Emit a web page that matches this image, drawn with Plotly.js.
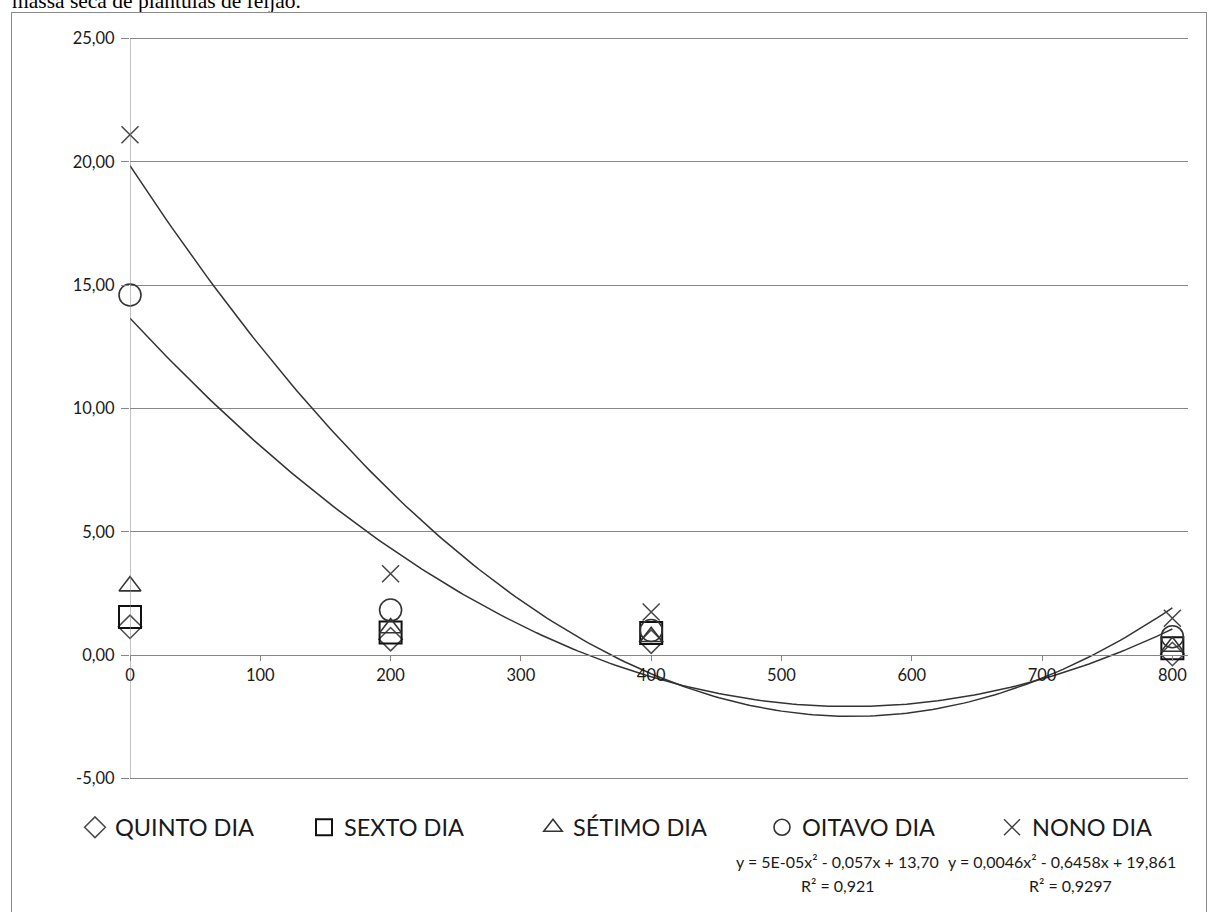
<!DOCTYPE html>
<html>
<head>
<meta charset="utf-8">
<script src="https://cdn.plot.ly/plotly-3.0.1.min.js"></script>
<style>
  html, body { margin: 0; padding: 0; background: #fff; }
  body { width: 1214px; height: 912px; position: relative; overflow: hidden; }
  #frame { position: absolute; left: 11px; top: 12px; width: 1196px; height: 920px; border: 1px solid #8a8a8a; box-sizing: border-box; }
  #caption { position: absolute; left: 12px; top: -9px; font-family: "Liberation Serif", "Times New Roman", serif; font-size: 21.5px; line-height: 21px; color: #000; white-space: nowrap; }
  #chart { position: absolute; left: 0; top: 0; width: 1214px; height: 912px; }
</style>
</head>
<body>
<div id="caption">massa seca de plantulas de feijão.</div>
<div id="frame"></div>
<div id="chart"></div>
<script>
// ---- data ----
const doses = [0, 200, 400, 800];
const seriesNames = ["QUINTO DIA", "SEXTO DIA", "SÉTIMO DIA", "OITAVO DIA", "NONO DIA"];
const quinto = [1.15, 0.65, 0.55, 0.05];
const sexto = [1.55, 0.92, 0.90, 0.28];
const setimo = [2.80, 1.10, 0.75, 0.35];
const oitavo = [14.60, 1.83, 1.00, 0.75];
const nono = [21.10, 3.30, 1.75, 1.50];
const yTickVals = [-5, 0, 5, 10, 15, 20, 25];
const yTickText = ["-5,00", "0,00", "5,00", "10,00", "15,00", "20,00", "25,00"];
const xTickVals = [0, 100, 200, 300, 400, 500, 600, 700, 800];
const eqOitavo = ["y = 5E-05x² - 0,057x + 13,70", "R² = 0,921"];
const eqNono = ["y = 0,0046x² - 0,6458x + 19,861", "R² = 0,9297"];

// ---- quadratic least-squares trendline (as the spreadsheet does) ----
function polyFit2(xs, ys) {
  let S = [0,0,0,0,0], T = [0,0,0];
  for (let i = 0; i < xs.length; i++) {
    const t = xs[i] / 100;
    let p = 1;
    for (let k = 0; k < 5; k++) { S[k] += p; if (k < 3) T[k] += p * ys[i]; p *= t; }
  }
  const A = [[S[0],S[1],S[2],T[0]],[S[1],S[2],S[3],T[1]],[S[2],S[3],S[4],T[2]]];
  for (let c = 0; c < 3; c++) {
    for (let r = c + 1; r < 3; r++) {
      const f = A[r][c] / A[c][c];
      for (let k = c; k < 4; k++) A[r][k] -= f * A[c][k];
    }
  }
  const sol = [0,0,0];
  for (let r = 2; r >= 0; r--) {
    let s = A[r][3];
    for (let k = r + 1; k < 3; k++) s -= A[r][k] * sol[k];
    sol[r] = s / A[r][r];
  }
  return x => { const t = x / 100; return sol[0] + sol[1] * t + sol[2] * t * t; };
}
function trendTrace(ys) {
  const f = polyFit2(doses, ys);
  const xs = [], yv = [];
  for (let x = doses[0]; x <= doses[doses.length - 1]; x += 4) { xs.push(x); yv.push(f(x)); }
  return { x: xs, y: yv, mode: "lines", line: { color: "#333333", width: 1.5 }, showlegend: false, hoverinfo: "skip", cliponaxis: false };
}

const symbols = ["diamond-open", "square-open", "triangle-up-open", "circle-open", "x-thin-open"];
const sizes = [18, 22, 19, 22, 17];
const mcolors = ["#4a4a4a", "#111111", "#333333", "#333333", "#444444"];
const lwidths = [1.5, 2, 1.6, 1.6, 1.5];
const legendIds = ["legend", "legend", "legend", "legend", "legend2"];
const allY = [quinto, sexto, setimo, oitavo, nono];

const traces = [];
traces.push(trendTrace(oitavo));
traces.push(trendTrace(nono));
allY.forEach((ys, i) => {
  traces.push({
    x: doses, y: ys, name: seriesNames[i], mode: "markers", type: "scatter", cliponaxis: false,
    legend: legendIds[i],
    marker: { symbol: symbols[i], size: sizes[i], color: mcolors[i], line: { color: mcolors[i], width: lwidths[i] } }
  });
});

const tickFont = { family: "Lato, 'Open Sans', sans-serif", size: 16.5, color: "#1a1a1a" };
const eqFont = { family: "Lato, 'Open Sans', sans-serif", size: 16, color: "#1a1a1a" };
const legFont = { family: "Lato, 'Open Sans', sans-serif", size: 23.5, color: "#1a1a1a" };

// plot area: y=25 at 38px, y=-5 at 779px; range padded slightly so edge gridlines show
const yLo = -5.1, yHi = 25.1;
const pxPerUnit = (779 - 38) / 30;
const plotTop = 38 - (yHi - 25) * pxPerUnit;
const plotBot = 779 + (-5 - yLo) * pxPerUnit;
const plotH = plotBot - plotTop;
const plotL = 130, plotW = 1214 - 130 - 26;

function ann(text, xPx, yPx) {
  return { xref: "paper", yref: "paper", x: (xPx - plotL) / plotW, y: (plotBot - yPx) / plotH, text: text, showarrow: false,
           xanchor: "center", yanchor: "middle", font: eqFont };
}

const layout = {
  width: 1214, height: 912,
  margin: { l: plotL, r: 26, t: plotTop, b: 912 - plotBot },
  paper_bgcolor: "rgba(0,0,0,0)", plot_bgcolor: "rgba(0,0,0,0)",
  separators: ",.",
  showlegend: true,
  xaxis: {
    range: [0, 812], anchor: "free", position: (0 - yLo) / (yHi - yLo),
    tickvals: xTickVals, showgrid: false, zeroline: false,
    showline: true, linecolor: "#868686", linewidth: 1,
    ticks: "outside", ticklen: 5, tickcolor: "#868686",
    tickfont: tickFont
  },
  yaxis: {
    range: [yLo, yHi], tickvals: yTickVals, ticktext: yTickText,
    showgrid: true, gridcolor: "#878787", gridwidth: 1, zeroline: false,
    showline: false,
    ticks: "outside", ticklen: 8, tickcolor: "#878787",
    ticklabelstandoff: 3,
    tickfont: tickFont
  },
  shapes: [
    { type: "line", xref: "x", yref: "y", x0: 0, x1: 0, y0: yTickVals[0], y1: yTickVals[yTickVals.length - 1],
      line: { color: "#868686", width: 1 } }
  ],
  legend: {
    orientation: "h", x: (75 - plotL) / plotW, xanchor: "left", y: (plotBot - 828) / plotH, yanchor: "middle",
    font: legFont, entrywidth: 184, entrywidthmode: "pixels", bgcolor: "rgba(0,0,0,0)", itemclick: false
  },
  legend2: {
    orientation: "h", x: (992 - plotL) / plotW, xanchor: "left", y: (plotBot - 828) / plotH, yanchor: "middle",
    font: legFont, bgcolor: "rgba(0,0,0,0)", itemclick: false
  },
  annotations: [
    ann(eqOitavo[0], 837, 862),
    ann(eqOitavo[1], 838, 886),
    ann(eqNono[0], 1062, 862),
    ann(eqNono[1], 1070, 886)
  ]
};

Plotly.newPlot("chart", traces, layout, { staticPlot: true, displayModeBar: false });
</script>
</body>
</html>
